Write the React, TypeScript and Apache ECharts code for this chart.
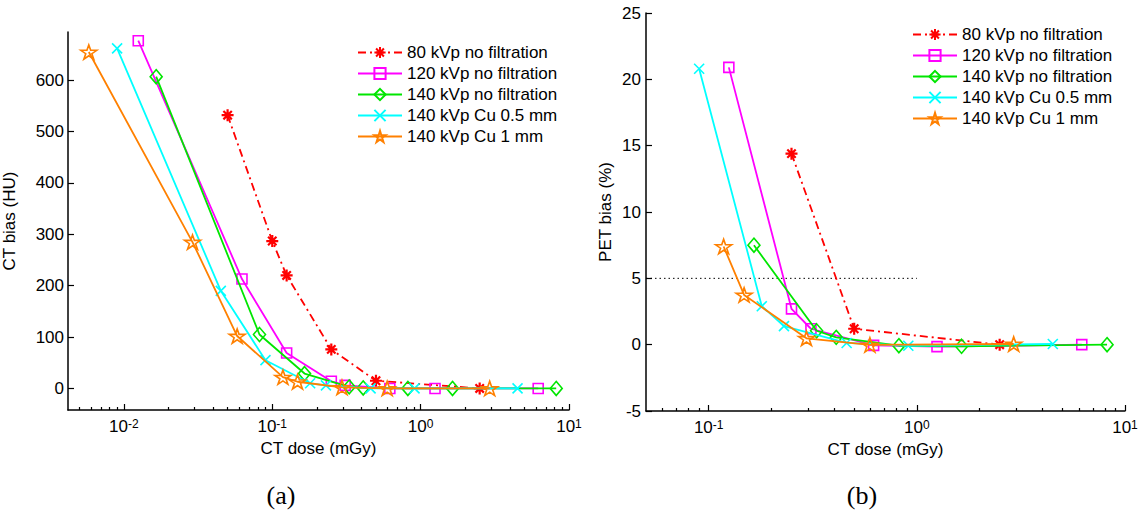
import React, { useEffect, useRef } from 'react';
import * as echarts from 'echarts';

const seriesNames = [
  '80 kVp no filtration',
  '120 kVp no filtration',
  '140 kVp no filtration',
  '140 kVp Cu 0.5 mm',
  '140 kVp Cu 1 mm',
];
const seriesColors = ['#ff0000', '#ff00ff', '#00e600', '#00ffff', '#ff8000'];

// (a) CT bias (HU) vs CT dose (mGy)
const ctDose80 = [0.05, 0.1, 0.125, 0.25, 0.5, 2.5];
const ctBias80 = [532, 287, 220, 76, 15, 0];
const ctDose120 = [0.0125, 0.0625, 0.125, 0.25, 0.31, 0.62, 1.25, 6.2];
const ctBias120 = [677, 213, 69, 14, 6, 0, 0, 0];
const ctDose140 = [0.0165, 0.082, 0.165, 0.33, 0.41, 0.82, 1.64, 8.2];
const ctBias140 = [607, 105, 29, 3, 1, 0, 0, 0];
const ctDoseCu05 = [0.009, 0.045, 0.09, 0.18, 0.23, 0.46, 0.91, 4.5];
const ctBiasCu05 = [662, 190, 55, 10, 6, 0, 0, 0];
const ctDoseCu1 = [0.0058, 0.029, 0.058, 0.118, 0.148, 0.295, 0.595, 2.92];
const ctBiasCu1 = [655, 285, 102, 22, 13, 2, 0, 0];

// (b) PET bias (%) vs CT dose (mGy)
const petDose80 = [0.25, 0.5, 2.5];
const petBias80 = [14.4, 1.2, 0];
const petDose120 = [0.125, 0.25, 0.31, 0.62, 1.25, 6.2];
const petBias120 = [20.9, 2.7, 1.2, -0.05, -0.15, 0];
const petDose140 = [0.165, 0.33, 0.41, 0.82, 1.64, 8.2];
const petBias140 = [7.5, 1.05, 0.55, -0.08, -0.12, 0];
const petDoseCu05 = [0.09, 0.18, 0.23, 0.46, 0.91, 4.5];
const petBiasCu05 = [20.8, 2.9, 1.4, 0.13, -0.08, 0.05];
const petDoseCu1 = [0.118, 0.148, 0.295, 0.595, 2.92];
const petBiasCu1 = [7.4, 3.75, 0.48, -0.02, 0.05];

// 5 % threshold line in (b)
const thresholdDose = [0.05, 1];
const thresholdBias = [5, 5];

// ticks
const ctBiasTicks = [0, 100, 200, 300, 400, 500, 600];
const doseDecadesA = [0.01, 0.1, 1, 10];
const doseDecadesB = [0.1, 1, 10];
const doseMinorA = [
  0.005, 0.006, 0.007, 0.008, 0.009,
  0.02, 0.03, 0.04, 0.05, 0.06, 0.07, 0.08, 0.09,
  0.2, 0.3, 0.4, 0.5, 0.6, 0.7, 0.8, 0.9,
  2, 3, 4, 5, 6, 7, 8, 9,
];
const doseMinorB = [
  0.06, 0.07, 0.08, 0.09,
  0.2, 0.3, 0.4, 0.5, 0.6, 0.7, 0.8, 0.9,
  2, 3, 4, 5, 6, 7, 8, 9,
];

const FONT = 'Liberation Sans, Arial, sans-serif';

const asteriskPath = 'path://M10,0 L10,20 M0,10 L20,10 M3,3 L17,17 M3,17 L17,3';
const crossPath = 'path://M0,0 L20,20 M0,20 L20,0';
const starPath =
  'path://M10,0 L12.25,6.91 L19.51,6.91 L13.63,11.18 L15.88,18.09 L10,13.82 L4.12,18.09 L6.37,11.18 L0.49,6.91 L7.75,6.91 Z';
const seriesSymbols = [asteriskPath, 'rect', 'diamond', crossPath, starPath];
const seriesSymbolSizes: any[] = [12, 10, [12, 14], 10, [16, 15]];
const seriesBorderWidths = [2.2, 1.6, 1.6, 1.6, 1.6];

const zip = (xs: number[], ys: number[]) => xs.map((x, i) => [x, ys[i]]);

export default function App() {
  const ref = useRef<HTMLDivElement>(null);
  useEffect(() => {
    if (!ref.current) return;
    const chart = echarts.init(ref.current, undefined, { renderer: 'svg' });

    const mkSeries = (idx: number, xs: number[], ys: number[], xAxisIndex: number, yAxisIndex: number) => ({
      type: 'line',
      name: seriesNames[idx],
      xAxisIndex,
      yAxisIndex,
      data: zip(xs, ys),
      symbol: seriesSymbols[idx],
      symbolSize: seriesSymbolSizes[idx],
      symbolKeepAspect: true,
      lineStyle: {
        color: seriesColors[idx],
        width: 1.8,
        type: idx === 0 ? [8, 4, 2, 4] : 'solid',
      },
      itemStyle: {
        color: 'rgba(0,0,0,0)',
        borderColor: seriesColors[idx],
        borderWidth: seriesBorderWidths[idx],
      },
      z: 2 + idx,
      silent: true,
    });

    const xLabel = {
      formatter: (v: number) => `{b|10}{s|${Math.round(Math.log10(v))}}`,
      margin: 8,
      rich: {
        b: { fontSize: 17, fontFamily: FONT, color: '#000', verticalAlign: 'bottom', lineHeight: 17, padding: [6, 0, 0, 0] },
        s: { fontSize: 12, fontFamily: FONT, color: '#000', verticalAlign: 'top', lineHeight: 12 },
      },
    };
    const axisLine = { show: true, onZero: false, lineStyle: { color: '#000', width: 1.5 } };
    const nameStyle = { fontSize: 17, fontFamily: FONT, color: '#000' };

    const mkMajorX = (gridIndex: number, min: number, decades: number[]) => ({
      type: 'log',
      logBase: 10,
      gridIndex,
      min,
      max: 10,
      position: 'bottom',
      axisLine,
      axisTick: { show: true, inside: true, length: 6, customValues: decades, lineStyle: { color: '#000', width: 1.2 } },
      axisLabel: { ...xLabel, customValues: decades },
      splitLine: { show: false },
      minorTick: { show: false },
      name: 'CT dose (mGy)',
      nameLocation: 'middle',
      nameGap: 25,
      nameTextStyle: nameStyle,
    });
    const mkMinorX = (gridIndex: number, min: number, minors: number[]) => ({
      type: 'log',
      logBase: 10,
      gridIndex,
      min,
      max: 10,
      position: 'bottom',
      axisLine: { show: false, onZero: false },
      axisTick: { show: true, inside: true, length: 3, customValues: minors, lineStyle: { color: '#000', width: 1.2 } },
      axisLabel: { show: false },
      splitLine: { show: false },
    });

    const option: any = {
      animation: false,
      textStyle: { fontFamily: FONT, color: '#000' },
      grid: [
        { left: 68, top: 32, width: 501, height: 378, containLabel: false, outerBoundsMode: 'none' },
        { left: 646, top: 13, width: 479, height: 398, containLabel: false, outerBoundsMode: 'none' },
      ],
      xAxis: [
        mkMajorX(0, 0.0042, doseDecadesA),
        mkMinorX(0, 0.0042, doseMinorA),
        mkMajorX(1, 0.05, doseDecadesB),
        mkMinorX(1, 0.05, doseMinorB),
      ],
      yAxis: [
        {
          type: 'value',
          gridIndex: 0,
          min: -42,
          max: 694,
          axisLine,
          axisTick: { show: true, inside: true, length: 6, customValues: ctBiasTicks, lineStyle: { color: '#000', width: 1.2 } },
          axisLabel: { customValues: ctBiasTicks, fontSize: 17, fontFamily: FONT, color: '#000', margin: 4 },
          splitLine: { show: false },
          name: 'CT bias (HU)',
          nameLocation: 'middle',
          nameGap: 50,
          nameTextStyle: nameStyle,
        },
        {
          type: 'value',
          gridIndex: 1,
          min: -5,
          max: 25,
          interval: 5,
          axisLine,
          axisTick: { show: true, inside: true, length: 6, lineStyle: { color: '#000', width: 1.2 } },
          axisLabel: { fontSize: 17, fontFamily: FONT, color: '#000', margin: 5 },
          splitLine: { show: false },
          name: 'PET bias (%)',
          nameLocation: 'middle',
          nameGap: 32,
          nameTextStyle: nameStyle,
        },
      ],
      legend: [
        {
          orient: 'vertical',
          left: 357,
          top: 44,
          padding: 0,
          itemWidth: 44,
          itemHeight: 14,
          itemGap: 4,
          data: seriesNames,
          selectedMode: false,
          textStyle: { fontSize: 17, fontFamily: FONT, color: '#000' },
        },
        {
          orient: 'vertical',
          left: 912,
          top: 26,
          padding: 0,
          itemWidth: 44,
          itemHeight: 14,
          itemGap: 4,
          data: seriesNames,
          selectedMode: false,
          textStyle: { fontSize: 17, fontFamily: FONT, color: '#000' },
        },
      ],
      graphic: [
        { type: 'text', x: 281, y: 495, style: { text: '(a)', fontSize: 26, fontFamily: 'Liberation Serif, serif', fill: '#000', textAlign: 'center', textVerticalAlign: 'middle' } },
        { type: 'text', x: 862, y: 495, style: { text: '(b)', fontSize: 26, fontFamily: 'Liberation Serif, serif', fill: '#000', textAlign: 'center', textVerticalAlign: 'middle' } },
      ],
      series: [
        mkSeries(0, ctDose80, ctBias80, 0, 0),
        mkSeries(1, ctDose120, ctBias120, 0, 0),
        mkSeries(2, ctDose140, ctBias140, 0, 0),
        mkSeries(3, ctDoseCu05, ctBiasCu05, 0, 0),
        mkSeries(4, ctDoseCu1, ctBiasCu1, 0, 0),
        {
          type: 'line',
          xAxisIndex: 2,
          yAxisIndex: 1,
          data: zip(thresholdDose, thresholdBias),
          symbol: 'none',
          lineStyle: { color: '#000', width: 1, type: [1.5, 3] },
          silent: true,
          z: 1,
        },
        mkSeries(0, petDose80, petBias80, 2, 1),
        mkSeries(1, petDose120, petBias120, 2, 1),
        mkSeries(2, petDose140, petBias140, 2, 1),
        mkSeries(3, petDoseCu05, petBiasCu05, 2, 1),
        mkSeries(4, petDoseCu1, petBiasCu1, 2, 1),
      ],
    };
    chart.setOption(option);
    return () => chart.dispose();
  }, []);
  return (
    <div
      ref={ref}
      style={{ position: 'fixed', left: 0, top: 0, width: 1145, height: 521, background: '#fff' }}
    />
  );
}
